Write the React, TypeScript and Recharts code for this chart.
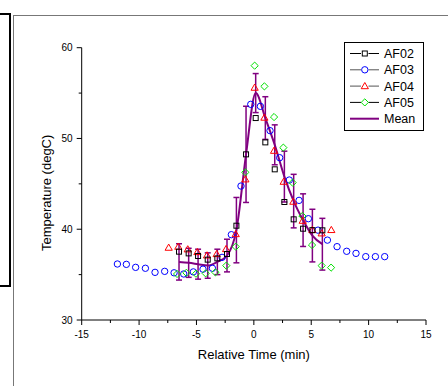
import { ComposedChart, Scatter, Line, ErrorBar, XAxis, YAxis, Legend } from 'recharts';

// values
const af02X = [-6.52, -5.68, -4.86, -4.02, -3.18, -2.34, -1.52, -0.68, 0.16, 1.0, 1.82, 2.66, 3.47, 4.29, 5.1, 5.97];
const af02Y = [37.53, 37.34, 37.05, 36.65, 36.79, 37.27, 40.39, 48.25, 52.25, 49.57, 46.6, 43.0, 41.09, 40.06, 39.9, 39.88];

const af03X = [-11.89, -11.11, -10.3, -9.45, -8.61, -7.77, -6.95, -6.11, -5.27, -4.43, -3.61, -2.77, -1.96, -1.12, -0.27, 0.57, 1.41, 2.25, 3.09, 3.94, 4.75, 5.59, 6.41, 7.25, 8.09, 8.9, 9.75, 10.59, 11.4];
const af03Y = [36.17, 36.13, 35.8, 35.7, 35.25, 35.36, 35.2, 35.07, 35.3, 35.6, 35.7, 36.9, 39.4, 44.76, 53.76, 53.54, 50.86, 47.88, 45.42, 43.18, 41.16, 39.9, 38.8, 38.08, 37.57, 37.34, 36.98, 36.98, 36.98];

const af04X = [-7.42, -6.58, -5.76, -4.92, -4.08, -3.24, -2.42, -1.58, -0.74, 0.07, 0.92, 1.76, 2.6, 3.44, 4.26, 5.1, 5.91, 6.75];
const af04Y = [37.97, 38.08, 37.79, 37.49, 37.12, 37.27, 37.82, 39.47, 45.5, 55.6, 52.3, 48.65, 45.24, 43.04, 40.94, 39.92, 39.55, 39.92];

const af05X = [-6.69, -5.88, -5.04, -4.2, -3.35, -2.4, -1.58, -0.74, 0.07, 0.92, 1.76, 2.57, 3.38, 4.23, 5.07, 5.91, 6.73];
const af05Y = [35.07, 35.2, 35.1, 35.14, 35.25, 35.99, 38.08, 46.27, 58.02, 55.74, 52.36, 48.99, 45.13, 41.46, 38.26, 35.99, 35.77];

const meanX = [-6.52, -5.68, -4.86, -4.02, -3.18, -2.34, -1.52, -0.68, 0.16, 1.0, 1.82, 2.66, 3.47, 4.29, 5.1, 5.97];
const meanY = [36.4, 36.3, 36.15, 36.0, 36.4, 37.1, 39.9, 48.25, 55.0, 52.25, 49.3, 45.8, 43.1, 41.0, 39.3, 38.35];
const meanErr = [2.0, 1.6, 1.65, 1.4, 1.4, 1.8, 3.6, 5.3, 2.15, 2.35, 2.2, 2.8, 2.95, 2.9, 2.9, 2.85];

const xTicks = [-15, -12.5, -10, -7.5, -5, -2.5, 0, 2.5, 5, 7.5, 10, 12.5, 15];
const yTicks = [30, 35, 40, 45, 50, 55, 60];

const zip = (xs: number[], ys: number[]) => xs.map((x, i) => ({ x, y: ys[i] }));
const af02 = zip(af02X, af02Y);
const af03 = zip(af03X, af03Y);
const af04 = zip(af04X, af04Y);
const af05 = zip(af05X, af05Y);
const mean = meanX.map((x, i) => ({ x, y: meanY[i], err: meanErr[i] }));

const FONT = '"Liberation Sans", Arial, sans-serif';
const PURPLE = '#800080';

function Marker({ kind, cx, cy }: { kind: string; cx: number; cy: number }) {
  if (kind === 'square')
    return <rect x={cx - 2.5} y={cy - 2.5} width={5} height={5} fill="none" stroke="#000" strokeWidth={1} />;
  if (kind === 'circle') return <circle cx={cx} cy={cy} r={3.2} fill="none" stroke="#0000ff" strokeWidth={1} />;
  if (kind === 'triangle')
    return (
      <path
        d={`M${cx},${cy - 3.6} L${cx + 3.6},${cy + 2.6} L${cx - 3.6},${cy + 2.6} Z`}
        fill="none"
        stroke="#ff0000"
        strokeWidth={1}
      />
    );
  return (
    <path
      d={`M${cx},${cy - 3.6} L${cx + 3.6},${cy} L${cx},${cy + 3.6} L${cx - 3.6},${cy} Z`}
      fill="none"
      stroke="#00e000"
      strokeWidth={1}
    />
  );
}

const legendRows = [
  { name: 'AF02', kind: 'square', line: '#000' },
  { name: 'AF03', kind: 'circle', line: '#555' },
  { name: 'AF04', kind: 'triangle', line: '#555' },
  { name: 'AF05', kind: 'diamond', line: '#000' },
  { name: 'Mean', kind: 'mean', line: PURPLE },
];

function LegendBox() {
  return (
    <svg width={80} height={89} style={{ display: 'block' }}>
      <rect x={0.5} y={0.5} width={79} height={88} fill="#fff" stroke="#000" strokeWidth={1} />
      {legendRows.map((r, i) => {
        const cy = 11.5 + i * 16.3;
        return (
          <g key={r.name}>
            {r.kind === 'mean' ? (
              <line x1={6} x2={35} y1={cy} y2={cy} stroke={PURPLE} strokeWidth={2} />
            ) : (
              <>
                <line x1={6} x2={17} y1={cy} y2={cy} stroke={r.line} strokeWidth={1} />
                <line x1={24.5} x2={35} y1={cy} y2={cy} stroke={r.line} strokeWidth={1} />
                <Marker kind={r.kind} cx={20.8} cy={cy} />
              </>
            )}
            <text x={40} y={cy} dy="0.36em" fontSize={12.5} fontFamily={FONT} fill="#000" stroke="none">
              {r.name}
            </text>
          </g>
        );
      })}
    </svg>
  );
}

function XTick(props: any) {
  const { x, y, payload } = props;
  const major = payload.value % 5 === 0;
  const axisY = y - 11;
  return (
    <g>
      <line x1={x} x2={x} y1={axisY} y2={axisY + (major ? 5 : 3)} stroke="#000" />
      {major && (
        <text x={x} y={y} dy="0.71em" textAnchor="middle" fontSize={10} fontFamily={FONT} fill="#000" stroke="none">
          {payload.value}
        </text>
      )}
    </g>
  );
}

function YTick(props: any) {
  const { x, y, payload } = props;
  const major = payload.value % 10 === 0;
  const axisX = x + 9;
  return (
    <g>
      <line x1={axisX} x2={axisX - (major ? 5 : 3)} y1={y} y2={y} stroke="#000" />
      {major && (
        <text x={x} y={y} dy="0.36em" textAnchor="end" fontSize={10} fontFamily={FONT} fill="#000" stroke="none">
          {payload.value}
        </text>
      )}
    </g>
  );
}

const dot = (kind: string) => (p: any) => <Marker kind={kind} cx={p.cx} cy={p.cy} />;

export default function App() {
  return (
    <div style={{ position: 'absolute', left: 0, top: 0, width: 448, height: 386, background: '#fff', overflow: 'hidden' }}>
      {/* frame bits around the embedded figure */}
      <div style={{ position: 'absolute', left: -10, top: 13, width: 17, height: 270, border: '2px solid #000' }} />
      <div style={{ position: 'absolute', left: 13, top: 15, width: 440, height: 380, borderLeft: '1px solid #777', borderTop: '1px solid #777' }} />
      <div style={{ position: 'absolute', left: 0, top: 0 }}>
        <ComposedChart width={448} height={386} margin={{ top: 47.7, right: 22, bottom: 36, left: 0 }}>
          <XAxis
            type="number"
            dataKey="x"
            domain={[-15, 15]}
            ticks={xTicks}
            interval={0}
            tickSize={5}
            tickMargin={6}
            tickLine={false}
            tick={<XTick />}
            height={30}
            axisLine={{ stroke: '#000' }}
            label={(p: any) => (
              <text
                x={p.viewBox.x + p.viewBox.width / 2}
                y={354.5}
                dy="0.36em"
                textAnchor="middle"
                fontSize={13}
                fontFamily={FONT}
                fill="#000"
                stroke="none"
              >
                Relative Time (min)
              </text>
            )}
          />
          <YAxis
            type="number"
            dataKey="y"
            domain={[30, 60]}
            ticks={yTicks}
            interval={0}
            width={81.7}
            tickSize={5}
            tickMargin={4}
            tickLine={false}
            tick={<YTick />}
            axisLine={{ stroke: '#000' }}
            label={(p: any) => {
              const cy = p.viewBox.y + p.viewBox.height / 2 + 9;
              return (
                <text
                  x={46.7}
                  y={cy}
                  dy="0.36em"
                  transform={`rotate(-90 46.7 ${cy})`}
                  textAnchor="middle"
                  fontSize={13}
                  fontFamily={FONT}
                  fill="#000"
                  stroke="none"
                >
                  Temperature (degC)
                </text>
              );
            }}
          />
          <Legend
            layout="vertical"
            align="center"
            verticalAlign="middle"
            content={() => <LegendBox />}
            wrapperStyle={{ left: 343.5, top: 42, width: 80, height: 89 }}
          />
          <Scatter name="AF03" data={af03} dataKey="y" line={false} stroke="none" fill="none" isAnimationActive={false} shape={dot('circle')} />
          <Scatter name="AF05" data={af05} dataKey="y" line={false} stroke="none" fill="none" isAnimationActive={false} shape={dot('diamond')} />
          <Scatter name="AF04" data={af04} dataKey="y" line={false} stroke="none" fill="none" isAnimationActive={false} shape={dot('triangle')} />
          <Scatter name="AF02" data={af02} dataKey="y" line={false} stroke="none" fill="none" isAnimationActive={false} shape={dot('square')} />
          <Line
            name="Mean"
            data={mean}
            dataKey="y"
            type="monotone"
            stroke={PURPLE}
            strokeWidth={2}
            dot={false}
            activeDot={false}
            isAnimationActive={false}
          >
            <ErrorBar dataKey="err" direction="y" width={3} stroke={PURPLE} strokeWidth={1.5} isAnimationActive={false} />
          </Line>
        </ComposedChart>
      </div>
    </div>
  );
}
